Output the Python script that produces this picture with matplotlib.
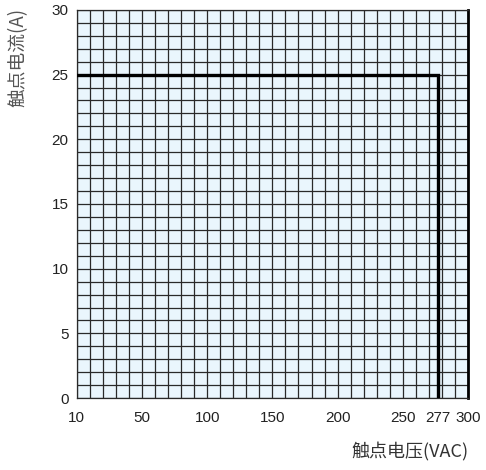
import numpy as np
import matplotlib.pyplot as plt

plt.rcParams['font.family'] = ['Liberation Sans', 'Noto Sans CJK SC', 'DejaVu Sans']

# rated limit curve
limit_v = [0, 277, 277]
limit_a = [25, 25, 0]

x_ticks = [0, 50, 100, 150, 200, 250, 277, 300]
x_tick_labels = ['10', '50', '100', '150', '200', '250', '277', '300']
y_ticks = [0, 5, 10, 15, 20, 25, 30]

fig = plt.figure(figsize=(4.86, 4.70), dpi=100)
ax = fig.add_axes([0.158, 0.153, 0.805, 0.826])
ax.set_facecolor('#eaf6fd')

# paper grid: 10 V x 1 A cells
for xv in np.arange(0, 301, 10):
    ax.axvline(xv, color='#2a2a2a', lw=0.9, zorder=1)
for yv in np.arange(0, 31, 1):
    ax.axhline(yv, color='#2a2a2a', lw=0.9, zorder=1)

ax.plot(limit_v, limit_a, c='k', lw=2.4, solid_joinstyle='miter', zorder=3)

ax.set_xlim(0, 300)
ax.set_ylim(0, 30)
ax.set_xticks(x_ticks)
ax.set_xticklabels(x_tick_labels)
ax.set_yticks(y_ticks)
ax.tick_params(length=0, labelsize=11, colors='#222222')
ax.tick_params(axis='x', pad=9)
ax.tick_params(axis='y', pad=6)

for s in ['left', 'bottom', 'top']:
    ax.spines[s].set_linewidth(0.9)
    ax.spines[s].set_color('#2a2a2a')
ax.spines['right'].set_linewidth(2.0)
ax.spines['right'].set_color('k')

fig.text(0.038, 0.877, '触点电流(A)', rotation=90, ha='center', va='center',
         fontsize=13.5, color='#555555', family=['Noto Sans CJK SC', 'DejaVu Sans'])
fig.text(0.965, 0.038, '触点电压(VAC)', ha='right', va='center',
         fontsize=13, color='#333333', family=['Noto Sans CJK SC', 'DejaVu Sans'])

fig.savefig('out.png', dpi=100)
